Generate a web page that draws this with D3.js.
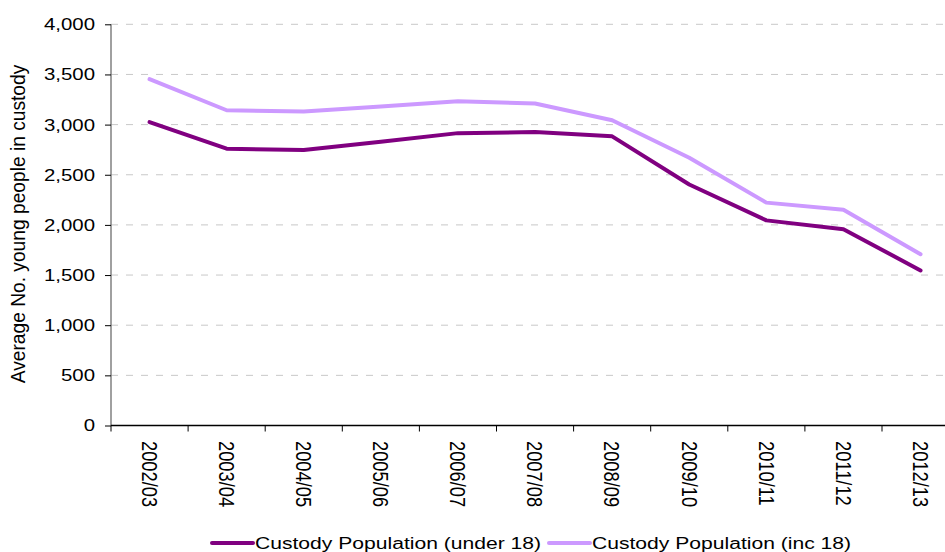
<!DOCTYPE html>
<html>
<head>
<meta charset="utf-8">
<script src="https://cdn.jsdelivr.net/npm/d3@7"></script>
<style>
    body { margin: 0; background: #fff; }
    svg { display: block; font-family: "Liberation Sans", Arial, sans-serif; }
</style>
</head>
<body>
<svg id="chart" width="945" height="552"></svg>
<script>
const years = ["2002/03", "2003/04", "2004/05", "2005/06", "2006/07", "2007/08",
    "2008/09", "2009/10", "2010/11", "2011/12", "2012/13"]
const under18 = [3025, 2760, 2746, 2830, 2915, 2926, 2883, 2403, 2045, 1957, 1546]
const inc18 = [3453, 3143, 3130, 3181, 3233, 3210, 3043, 2670, 2222, 2150, 1708]
const yTicks = [0, 500, 1000, 1500, 2000, 2500, 3000, 3500, 4000]

const series = [
    {name: "Custody Population (under 18)", values: under18, color: "#800080"},
    {name: "Custody Population (inc 18)", values: inc18, color: "#cc99ff"},
]

const width = 945, height = 552
const plotLeft = 111, plotTop = 24.3, plotBottom = 425.5
const band = 77.1
const stretch = 1.2   // the original picture is a bit wider than tall

const svg = d3.select("#chart")

const xScale = d3.scaleBand(years, [plotLeft, plotLeft + band * years.length])
const yScale = d3.scaleLinear([0, 4000], [plotBottom, plotTop])

// dashed gridlines
svg.append("g")
    .selectAll("line")
    .data(yTicks.filter(d => d > 0))
    .join("line")
    .attr("x1", plotLeft)
    .attr("x2", width)
    .attr("y1", d => yScale(d))
    .attr("y2", d => yScale(d))
    .attr("stroke", "#c8c8c8")
    .attr("stroke-width", 1)
    .attr("stroke-dasharray", "7,8")

// y axis
const yAxisGroup = svg.append("g")
    .attr("transform", `translate(${plotLeft}, 0)`)
    .call(d3.axisLeft(yScale).tickValues(yTicks).tickFormat(d3.format(",")).tickSize(6).tickPadding(0))
yAxisGroup.select(".domain").attr("stroke", "#808080").attr("stroke-width", 1.5)
    .attr("d", `M0,${plotTop}V${plotBottom}`)
yAxisGroup.selectAll(".tick line").attr("stroke", "#000")
yAxisGroup.selectAll(".tick text")
    .attr("font-size", 17)
    .attr("fill", "#000")
    .attr("x", null)
    .attr("text-anchor", "end")
    .attr("transform", `translate(-16, 0) scale(${stretch}, 1)`)

// x axis
const xAxisGroup = svg.append("g")
    .attr("transform", `translate(0, ${plotBottom})`)
    .call(d3.axisBottom(xScale).tickSize(0).tickFormat(""))
xAxisGroup.select(".domain").attr("stroke", "#000").attr("stroke-width", 1.5)
    .attr("d", `M${plotLeft},0H${width}`)

// tick marks on band edges
svg.append("g")
    .selectAll("line")
    .data(years)
    .join("line")
    .attr("x1", d => xScale(d))
    .attr("x2", d => xScale(d))
    .attr("y1", plotBottom)
    .attr("y2", plotBottom + 6)
    .attr("stroke", "#000")

// rotated year labels
svg.append("g")
    .selectAll("text")
    .data(years)
    .join("text")
    .attr("transform", d => `translate(${xScale(d) + xScale.bandwidth() / 2}, 441) rotate(90) scale(1, ${stretch})`)
    .attr("dy", "0.35em")
    .attr("font-size", 18.3)
    .attr("fill", "#000")
    .text(d => d)

// y axis title
svg.append("text")
    .attr("transform", `translate(18, 224) rotate(-90) scale(1, 1.1)`)
    .attr("text-anchor", "middle")
    .attr("dy", "0.35em")
    .attr("font-size", 19.2)
    .attr("fill", "#000")
    .text("Average No. young people in custody")

// lines
const line = d3.line()
    .x((d, i) => xScale(years[i]) + xScale.bandwidth() / 2)
    .y(d => yScale(d))

svg.append("g")
    .selectAll("path")
    .data(series)
    .join("path")
    .attr("fill", "none")
    .attr("stroke", d => d.color)
    .attr("stroke-width", 4)
    .attr("stroke-linejoin", "round")
    .attr("stroke-linecap", "round")
    .attr("d", d => line(d.values))

// legend
const legendX = [212, 549]
const legend = svg.append("g")
    .selectAll("g")
    .data(series)
    .join("g")
    .attr("transform", (d, i) => `translate(${legendX[i]}, 543)`)
legend.append("line")
    .attr("x1", 0)
    .attr("x2", 41)
    .attr("stroke", d => d.color)
    .attr("stroke-width", 4)
    .attr("stroke-linecap", "round")
legend.append("text")
    .attr("transform", `translate(43, 0) scale(1.22, 1)`)
    .attr("dy", "0.35em")
    .attr("font-size", 17.3)
    .attr("fill", "#000")
    .text(d => d.name)
</script>
</body>
</html>
